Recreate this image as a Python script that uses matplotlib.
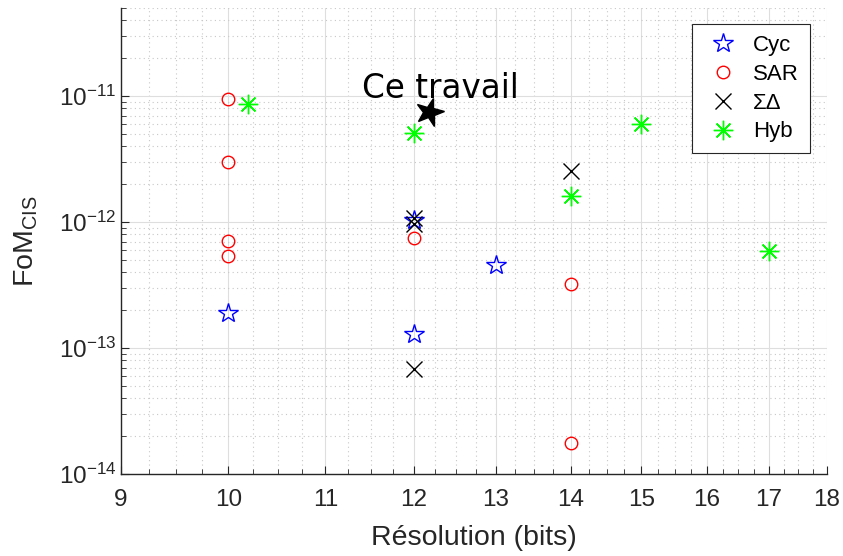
import numpy as np
import matplotlib
matplotlib.use("Agg")
import matplotlib.pyplot as plt
from matplotlib.markers import MarkerStyle
from matplotlib.transforms import Affine2D
from matplotlib.ticker import FixedLocator, FixedFormatter, NullFormatter

plt.rcParams['font.family'] = ['Liberation Sans', 'DejaVu Sans']
plt.rcParams['mathtext.default'] = 'regular'

# data
cyc_bits = [10, 12, 12, 13]
cyc_fom = [1.9e-13, 1.3e-13, 1.04e-12, 4.6e-13]

sar_bits = [10, 10, 10, 10, 12, 14, 14]
sar_fom = [9.5e-12, 3.0e-12, 7.1e-13, 5.4e-13, 7.5e-13, 3.2e-13, 1.75e-14]

sd_bits = [12, 12, 12, 14]
sd_fom = [1.08e-12, 9.6e-13, 6.8e-14, 2.55e-12]

hyb_bits = [10.2, 12, 14, 15, 17]
hyb_fom = [8.7e-12, 5.1e-12, 1.6e-12, 6.0e-12, 5.9e-13]

this_bits = [12.18]
this_fom = [7.5e-12]

xticks = list(range(9, 19))
yticks = [1e-14, 1e-13, 1e-12, 1e-11]
ytick_labels = ['$10^{-14}$', '$10^{-13}$', '$10^{-12}$', '$10^{-11}$']

dark = '#262626'

fig = plt.figure(figsize=(8.43, 5.56), dpi=100)
ax = fig.add_axes([0.1435, 0.1475, 0.8375, 0.838])

# series
ax.plot(cyc_bits, cyc_fom, linestyle='none', marker='*', markersize=15,
        markerfacecolor='none', markeredgecolor='b', markeredgewidth=1.0, label='Cyc')
ax.plot(sar_bits, sar_fom, linestyle='none', marker='o', markersize=9,
        markerfacecolor='none', markeredgecolor='r', markeredgewidth=1.0, label='SAR')
ax.plot(sd_bits, sd_fom, linestyle='none', marker='x', markersize=11,
        color='k', markeredgewidth=1.0, label='ΣΔ')
ax.plot(hyb_bits, hyb_fom, linestyle='none', marker=(8, 2, 0), markersize=14,
        color='#00ff00', markeredgewidth=1.0, label='Hyb')

# this work (tilted filled star)
star = MarkerStyle('*', transform=Affine2D().rotate_deg(-15))
ax.plot(this_bits, this_fom, linestyle='none', marker=star, markersize=21,
        color='k')
ax.text(11.4, 9.7e-12, 'Ce travail', fontsize=23.5, family='DejaVu Sans',
        ha='left', va='baseline')

ax.set_xscale('log')
ax.set_yscale('log')
ax.set_xlim(9, 18)
ax.set_ylim(1e-14, 5e-11)

ax.xaxis.set_major_locator(FixedLocator(xticks))
ax.xaxis.set_major_formatter(FixedFormatter([str(t) for t in xticks]))
xminor = [t for t in np.arange(9, 18, 0.25) if t % 1 != 0]
ax.xaxis.set_minor_locator(FixedLocator(xminor))
ax.xaxis.set_minor_formatter(NullFormatter())

ax.yaxis.set_major_locator(FixedLocator(yticks))
ax.yaxis.set_major_formatter(FixedFormatter(ytick_labels))
yminor = [m * 10.0 ** e for e in range(-14, -10) for m in range(2, 10)]
ax.yaxis.set_minor_locator(FixedLocator(yminor))
ax.yaxis.set_minor_formatter(NullFormatter())

# matlab-like grid
ax.grid(True, which='major', color='#dedede', linestyle='-', linewidth=0.8)
ax.grid(True, which='minor', color='#c8c8c8', linestyle=(0, (1, 3)), linewidth=0.8)
ax.set_axisbelow(True)

for s in ['top', 'right']:
    ax.spines[s].set_visible(False)
for s in ['left', 'bottom']:
    ax.spines[s].set_color(dark)
    ax.spines[s].set_linewidth(1.0)

ax.tick_params(which='both', direction='in', colors=dark, labelsize=17.5,
               top=False, right=False)
ax.tick_params(which='major', length=6)
ax.tick_params(which='minor', length=3.5)
ax.tick_params(axis='x', pad=11)

ax.set_xlabel('Résolution (bits)', fontsize=20.5, color=dark, labelpad=10)
ax.set_ylabel('$FoM_{CIS}$', fontsize=20.5, color=dark, labelpad=13)

leg = ax.legend(loc='upper right', bbox_to_anchor=(0.976, 0.966), borderaxespad=0,
                fontsize=16, frameon=True, fancybox=False, framealpha=1,
                edgecolor=dark, handlelength=1.8, borderpad=0.5,
                labelspacing=0.35, handletextpad=0.45)
leg.get_frame().set_linewidth(0.8)

fig.savefig('out.png', dpi=100)
